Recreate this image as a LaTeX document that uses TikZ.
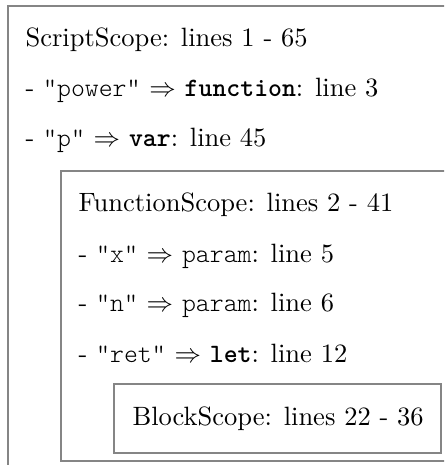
\documentclass[tikz,border=0pt]{standalone}
% light typewriter for names, bold typewriter for keywords
\newcommand\nm[1]{{\ttfamily\fontseries{l}\selectfont #1}}
\newcommand\kw[1]{{\ttfamily\bfseries #1}}
\begin{document}
\begin{tikzpicture}[x=0.3774pt,y=-0.3774pt,
  scopebox/.style={draw=black!48, line width=0.8pt},
  entry/.style={anchor=base west, inner sep=0pt, font=\fontsize{10}{12}\selectfont}]
\useasboundingbox (0,0) rectangle (444,465);
\clip (0,0) rectangle (444,465);
% nested scope frames (outer two run past the page edge)
\draw[scopebox] (8,6) rectangle (480,500);
\draw[scopebox] (61,171) rectangle (480,461);
\draw[scopebox] (114,384) rectangle (441,453);
% script scope
\node[entry] (script) at (25,47) {ScriptScope: lines 1 - 65};
\node[entry] (power) at (25,97) {- \nm{"power"} $\Rightarrow$ \kw{function}: line 3};
\node[entry] (pvar) at (25,147) {- \nm{"p"} $\Rightarrow$ \kw{var}: line 45};
% function scope
\node[entry] (func) at (78,212) {FunctionScope: lines 2 - 41};
\node[entry] (xparam) at (78,262) {- \nm{"x"} $\Rightarrow$ \nm{param}: line 5};
\node[entry] (nparam) at (78,311) {- \nm{"n"} $\Rightarrow$ \nm{param}: line 6};
\node[entry] (retlet) at (78,362) {- \nm{"ret"} $\Rightarrow$ \kw{let}: line 12};
% block scope
\node[entry] (block) at (132,425) {BlockScope: lines 22 - 36};
\end{tikzpicture}
\end{document}
